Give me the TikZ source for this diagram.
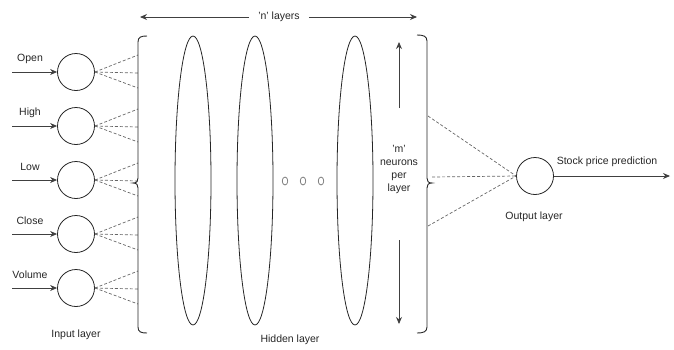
\documentclass[tikz,border=0pt]{standalone}
\usepackage{fontspec}
\setmainfont{Liberation Sans}
\usetikzlibrary{arrows.meta,shapes.geometric}
\begin{document}
\begin{tikzpicture}[x=1pt,y=-1pt,
  neuron/.style={circle,draw=black!85,line width=0.8pt,minimum size=37pt,inner sep=0pt},
  hlayer/.style={ellipse,draw=black!85,line width=0.8pt,minimum width=36pt,minimum height=289pt,inner sep=0pt},
  dot/.style={ellipse,draw=black!55,line width=0.7pt,minimum width=5.5pt,minimum height=8pt,inner sep=0pt},
  lbl/.style={font=\fontsize{10.5}{13}\selectfont,text=black!85,inner sep=0pt,align=center},
  arr/.style={-{Stealth[length=7pt,width=6pt]},line width=0.9pt,draw=black!75},
  conn/.style={dash pattern=on 3pt off 2pt,line width=0.7pt,draw=black!60},
  brace/.style={line width=0.9pt,draw=black!85}]
\useasboundingbox (0,0) rectangle (674,349);

% input neurons with their feature arrows
\foreach \name/\txt [count=\k from 0] in {a/Open,b/High,c/Low,d/Close,e/Volume}{
  \pgfmathsetmacro{\cy}{72+54*\k}
  \node[neuron] (in\name) at (76,\cy) {};
  \node[lbl] (lab\name) at (30,\cy-13) {\txt};
  \coordinate (src\name) at (12,\cy);
  \draw[arr] (src\name) -- (in\name.west);
  \coordinate (ta\name) at (138,\cy-17);
  \coordinate (tb\name) at (138,\cy+1);
  \coordinate (tc\name) at (138,\cy+16);
  \draw[conn] (in\name.east) -- (ta\name);
  \draw[conn] (in\name.east) -- (tb\name);
  \draw[conn] (in\name.east) -- (tc\name);
}
\node[lbl] (inlab) at (76,335) {Input layer};

% left brace
\draw[brace] (147,36) .. controls (141,36) and (138,37) .. (138,42) -- (138,178)
  .. controls (138,181) and (137,183) .. (133,183)
  .. controls (137,183) and (138,185) .. (138,188) -- (138,327)
  .. controls (138,332) and (141,333) .. (147,333);

% hidden layers
\node[hlayer] (h1) at (193,180.5) {};
\node[hlayer] (h2) at (255,180.5) {};
\node[hlayer] (h3) at (355,180.5) {};
\node[dot] (d1) at (285,181) {};
\node[dot] (d2) at (303,181) {};
\node[dot] (d3) at (321,181) {};
\node[lbl] (hlab) at (290,340) {Hidden layer};

% layer count arrow
\node[lbl,inner xsep=9pt,fill=white] (nlay) at (279,17) {'n' layers};
\coordinate (nl) at (140,17);
\coordinate (nr) at (417,17);
\draw[arr] (nlay.west) -- (nl);
\draw[arr] (nlay.east) -- (nr);

% neurons per layer
\node[lbl] (mlab) at (399,169) {'m'\\neurons\\per\\layer};
\coordinate (mu0) at (399,108);
\coordinate (mu1) at (399,42);
\coordinate (md0) at (399,240);
\coordinate (md1) at (399,324);
\draw[arr] (mu0) -- (mu1);
\draw[arr] (md0) -- (md1);

% right brace
\draw[brace] (417,35) .. controls (423,35) and (427,36) .. (427,41) -- (427,178)
  .. controls (427,181) and (428,183) .. (432,183)
  .. controls (428,183) and (427,185) .. (427,188) -- (427,327)
  .. controls (427,332) and (423,333) .. (417,333);

% output neuron
\node[neuron] (out) at (535,176) {};
\coordinate (ra) at (428,116);
\coordinate (rb) at (432,177);
\coordinate (rc) at (428,226);
\draw[conn] (ra) -- (out.west);
\draw[conn] (rb) -- (out.west);
\draw[conn] (rc) -- (out.west);
\coordinate (pred) at (670,176);
\draw[arr] (out.east) -- (pred);
\node[lbl] (plab) at (607,162) {Stock price prediction};
\node[lbl] (olab) at (534,217) {Output layer};
\end{tikzpicture}
\end{document}
